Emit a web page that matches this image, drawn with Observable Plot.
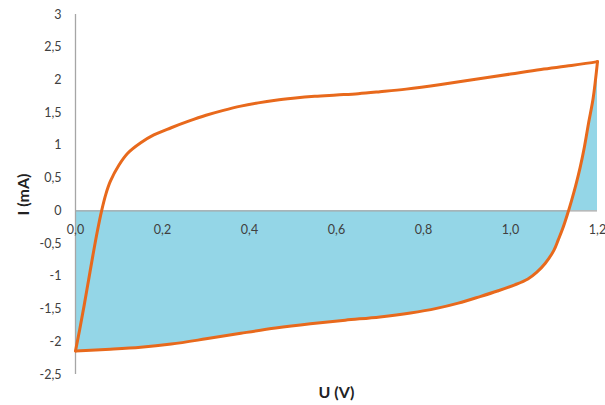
<!DOCTYPE html>
<html>
<head>
<meta charset="utf-8">
<script src="https://cdn.jsdelivr.net/npm/d3@7"></script>
<script src="https://cdn.jsdelivr.net/npm/@observablehq/plot@0.6"></script>
<style>
  html, body { margin: 0; padding: 0; background: #fff; }
</style>
</head>
<body>
<div id="chart"></div>
<script>
// Forward sweep (upper branch), U in V, I in mA
const upperU = [0, 0.01, 0.02, 0.03, 0.04, 0.05, 0.06, 0.07, 0.08, 0.10, 0.12, 0.15, 0.18, 0.22, 0.26, 0.30, 0.34, 0.38, 0.42, 0.46, 0.50, 0.55, 0.60, 0.65, 0.70, 0.76, 0.84, 0.92, 1.00, 1.07, 1.14, 1.20];
const upperI = [-2.14, -1.80, -1.44, -1.06, -0.68, -0.32, 0.0, 0.26, 0.45, 0.70, 0.88, 1.04, 1.16, 1.27, 1.37, 1.46, 1.535, 1.60, 1.65, 1.69, 1.72, 1.75, 1.77, 1.79, 1.82, 1.86, 1.93, 2.01, 2.09, 2.16, 2.22, 2.28];
// Reverse sweep (lower branch)
const lowerU = [1.20, 1.19, 1.18, 1.17, 1.16, 1.15, 1.14, 1.13, 1.12, 1.11, 1.10, 1.08, 1.06, 1.04, 1.01, 0.97, 0.93, 0.88, 0.83, 0.77, 0.70, 0.62, 0.54, 0.46, 0.38, 0.30, 0.22, 0.15, 0.08, 0.00];
const lowerI = [2.28, 1.72, 1.36, 0.98, 0.66, 0.39, 0.15, -0.07, -0.27, -0.44, -0.60, -0.80, -0.94, -1.04, -1.13, -1.225, -1.31, -1.41, -1.49, -1.56, -1.62, -1.67, -1.725, -1.79, -1.87, -1.955, -2.035, -2.085, -2.115, -2.14];

const xTicks = [0, 0.2, 0.4, 0.6, 0.8, 1.0, 1.2];
const yTicks = [-2.5, -2, -1.5, -1, -0.5, 0, 0.5, 1, 1.5, 2, 2.5, 3];
const xTitle = "U (V)";
const yTitle = "I (mA)";

const upper = upperU.map((u, i) => ({u, i: upperI[i]}));
const lower = lowerU.map((u, i) => ({u, i: lowerI[i]}));

const orange = "#e8691c";
const fillBlue = "#94d6e7";
const axisGray = "#a6a6a6";

const chart = Plot.plot({
  width: 605,
  height: 405,
  marginLeft: 75,
  marginRight: 8,
  marginTop: 14,
  marginBottom: 31,
  style: {fontFamily: "Lato, 'Open Sans', sans-serif", fontSize: "12.5px", color: "#404040", background: "#fff"},
  x: {domain: [0, 1.2], axis: null},
  y: {domain: [-2.5, 3], axis: null},
  marks: [
    Plot.areaY(lower, {x: "u", y: "i", fill: fillBlue, curve: "catmull-rom"}),
    Plot.ruleY([0], {stroke: axisGray, strokeWidth: 1.3}),
    Plot.ruleX([0], {stroke: axisGray, strokeWidth: 1.3}),
    Plot.line(upper, {x: "u", y: "i", stroke: orange, strokeWidth: 3, curve: "catmull-rom"}),
    Plot.line(lower, {x: "u", y: "i", stroke: orange, strokeWidth: 3, curve: "catmull-rom"}),
    Plot.text(yTicks, {x: 0, y: d => d, dx: -14, textAnchor: "end", fill: "#404040",
      text: d => String(d).replace(".", ",")}),
    Plot.text(xTicks, {x: d => d, y: 0, dy: 19, fill: "#404040",
      text: d => d.toFixed(1).replace(".", ",")}),
    Plot.text([xTitle], {frameAnchor: "bottom", dy: 18, lineAnchor: "middle", textAnchor: "middle", fontWeight: "bold", fontSize: 16, fill: "#222", text: d => d}),
    Plot.text([yTitle], {frameAnchor: "left", dx: -52, rotate: -90, textAnchor: "middle", lineAnchor: "middle", fontWeight: "bold", fontSize: 16, fill: "#222", text: d => d})
  ]
});
document.getElementById("chart").appendChild(chart);
</script>
</body>
</html>
